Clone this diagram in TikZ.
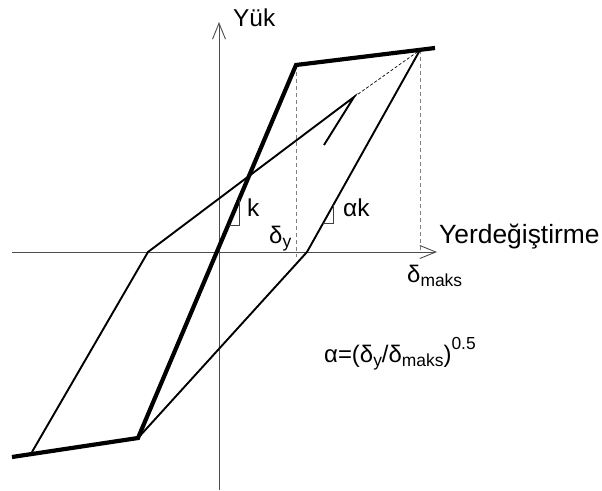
\documentclass[tikz,border=0pt]{standalone}
\usepackage{fontspec}
\setmainfont{Liberation Sans}
\usetikzlibrary{arrows.meta}
\newcommand\lowsub[1]{\raisebox{-0.35ex}{\fontsize{17.5}{17.5}\selectfont #1}}
\newcommand\highsup[1]{\raisebox{1.0ex}{\fontsize{17.5}{17.5}\selectfont #1}}
\begin{document}
\begin{tikzpicture}[x=1bp,y=-1bp]
\useasboundingbox (0,0) rectangle (602,491);
\tikzset{
  axisline/.style={line width=0.9bp, draw=black!70, -{Straight Barb[length=16bp,width=13bp,line width=0.9bp]}},
  boldline/.style={line width=4.2bp, line join=miter},
  thinline/.style={line width=1.9bp, line join=miter},
  guideline/.style={line width=0.8bp, draw=black!50, dash pattern=on 4bp off 3bp},
  finedash/.style={line width=0.7bp, dash pattern=on 3bp off 2bp},
  marker/.style={line width=0.9bp, draw=black!75},
  biglbl/.style={font=\fontsize{24.5}{24.5}\selectfont, inner sep=0pt, anchor=base west},
  midlbl/.style={font=\fontsize{24}{24}\selectfont, inner sep=0pt, anchor=base west}
}
% axes
\coordinate (hs) at (12,252);  \coordinate (he) at (437,252);
\coordinate (vs) at (219,490); \coordinate (ve) at (219,22);
% envelope
\coordinate (b0) at (12,457); \coordinate (b1) at (138,438);
\coordinate (b2) at (296,65); \coordinate (b3) at (435,48);
\coordinate (pk) at (420,50);
% cycles
\coordinate (u1) at (307,252);
\coordinate (l0) at (32,452); \coordinate (l1) at (148,252);
\coordinate (l2) at (354,97); \coordinate (l3) at (324,145);
% guides
\coordinate (dyt) at (296,65); \coordinate (dyb) at (296,257);
\coordinate (dmb) at (420,252);

\draw[guideline] (dyt) -- (dyb);
\draw[guideline] (pk) -- (dmb);
\draw[axisline] (hs) -- (he);
\draw[axisline] (vs) -- (ve);

\draw[thinline] (pk) -- (u1) -- (b1);
\draw[thinline] (l0) -- (l1) -- (l2) -- (l3);
\draw[finedash] (l2) -- (pk);
\draw[boldline] (b0) -- (b1) -- (b2) -- (b3);

% slope markers
\coordinate (k1) at (239,200); \coordinate (k2) at (239,225); \coordinate (k3) at (229,225);
\draw[marker] (k1) -- (k2) -- (k3);
\coordinate (a1) at (333,205.5); \coordinate (a2) at (333,223); \coordinate (a3) at (323,223);
\draw[marker] (a1) -- (a2) -- (a3);

% labels
\node[biglbl] (yuk) at (233,27) {Yük};
\node[biglbl, font=\fontsize{26.5}{26.5}\selectfont] (yer) at (439,243) {Yerdeğiştirme};
\node[biglbl] (klbl) at (247,217) {k};
\node[biglbl] (aklbl) at (343,217) {αk};
\node[midlbl] (dylbl) at (269,243) {δ\lowsub{y}};
\node[midlbl] (dmlbl) at (407,282) {δ\lowsub{maks}};
\node[midlbl] (form) at (324,362) {α=(δ\lowsub{y}/δ\lowsub{maks})\highsup{0.5}};
\end{tikzpicture}
\end{document}
